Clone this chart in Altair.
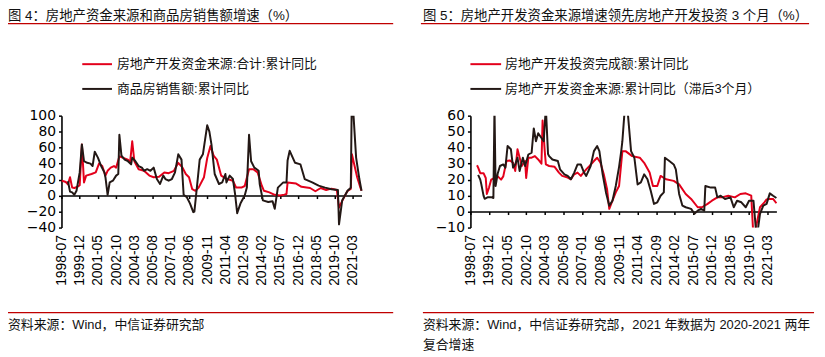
import altair as alt
import pandas as pd

FONT = "Liberation Sans, Noto Sans CJK SC"
RED = "#e3001b"
BLACK = "#231815"
TXT = "#111111"

# ---------------- data ----------------
# 图4: 房地产开发资金来源:合计:累计同比
f4_fund_dates = ["1998-07", "1998-09", "1998-11", "1999-01", "1999-03", "1999-05", "1999-07", "1999-10", "1999-12",
                 "2000-02", "2000-04", "2000-06", "2000-11", "2001-03", "2001-06", "2001-09", "2001-12", "2002-02",
                 "2002-05", "2002-08", "2002-10", "2003-01", "2003-04", "2003-09", "2003-11", "2004-01", "2004-03",
                 "2004-07", "2004-12", "2005-05", "2005-09", "2006-02", "2006-07", "2006-11", "2007-04", "2007-08",
                 "2007-12", "2008-03", "2008-06", "2008-09", "2008-12", "2009-03", "2009-08", "2009-11", "2010-02",
                 "2010-05", "2010-08", "2010-12", "2011-05", "2011-11", "2012-02", "2012-07", "2012-10", "2013-02",
                 "2013-06", "2013-10", "2014-02", "2014-04", "2014-09", "2015-02", "2015-07", "2015-11", "2016-01",
                 "2016-02", "2016-10", "2017-03", "2017-11", "2018-04", "2018-09", "2019-02", "2019-07", "2019-12",
                 "2020-02", "2020-06", "2020-10", "2021-01", "2021-02", "2021-07", "2021-10", "2021-11"]
f4_fund_vals = [18.6, 18, 17, 14, 23, 10, 9.5, 11, 13,
                64, 16.5, 25, 27, 29, 40, 37, 25, 31,
                35, 37, 35, 49, 47.5, 45, 41, 68, 43,
                33, 31, 25, 23, 23.5, 29, 28, 31, 41,
                35, 27, 23, 8, 6, 10, 23, 47, 62,
                50, 45, 25, 21, 18.6, 10, 10, 12, 33,
                33, 29, 12, 6, 4, 1, 0, 1.2, 2,
                16.5, 15, 11, 9.5, 5.4, 9.5, 7, 8.7, 7,
                -15, -4, 6, 8.5, 51.6, 23, 10, 6]

# 图4: 商品房销售额:累计同比
f4_sales_dates = ["1999-01", "1999-03", "1999-05", "1999-07", "1999-09", "1999-12", "2000-02", "2000-04", "2000-07",
                  "2000-10", "2000-12", "2001-02", "2001-05", "2001-08", "2001-11", "2001-12", "2002-02", "2002-04",
                  "2002-07", "2002-10", "2002-12", "2003-01", "2003-03", "2003-06", "2003-09", "2003-12", "2004-01",
                  "2004-04", "2004-07", "2004-10", "2004-12", "2005-03", "2005-06", "2005-09", "2005-12", "2006-03",
                  "2006-06", "2006-08", "2006-11", "2007-02", "2007-05", "2007-08", "2007-11", "2008-01", "2008-04",
                  "2008-07", "2008-10", "2008-11", "2009-01", "2009-04", "2009-07", "2009-09", "2009-11", "2010-01",
                  "2010-03", "2010-06", "2010-10", "2011-01", "2011-04", "2011-05", "2011-08", "2011-11", "2012-01",
                  "2012-03", "2012-06", "2012-10", "2012-12", "2013-02", "2013-04", "2013-07", "2013-11", "2013-12",
                  "2014-03", "2014-08", "2014-12", "2015-02", "2015-05", "2015-10", "2016-01", "2016-02", "2016-04",
                  "2016-09", "2017-02", "2017-06", "2018-01", "2018-07", "2019-01", "2019-07", "2020-01", "2020-02",
                  "2020-05", "2020-10", "2021-01", "2021-02", "2021-06", "2021-09", "2021-11"]
f4_sales_vals = [18, 5, 4, 1, 6, 29, 64, 43, 41,
                 40, 37, 55, 47.5, 37, 29, 23, 1, 16.5,
                 18.6, 25, 27, 76, 50, 45, 43, 39, 47.5,
                 43, 37, 35, 31, 33, 31, 35, 20.7, 14.5,
                 25, 20.7, 18.6, 20.7, 29, 51.6, 45, 1, -2,
                 -10, -20.7, -20, 6, 45, 51.6, 70, 88, 80,
                 64, 27, 14.5, 16.5, 27, 16.5, 25, 20.7, 2,
                 -22, -10, 0, 10, 76, 43, 35, 31, 14.5,
                 -6, -8, -7, -16.5, 10, 16.5, 16.5, 44, 56,
                 41, 39, 20.7, 16.5, 12.4, 10, 8, 7, -36,
                 -6, 6, 10, 133, 47.5, 20.7, 6]

# 图5: 房地产开发投资完成额:累计同比
f5_inv_dates = ["1999-01", "1999-02", "1999-04", "1999-07", "1999-09", "1999-10", "1999-12", "2000-02", "2000-05",
                "2000-08", "2000-11", "2001-01", "2001-04", "2001-07", "2001-10", "2001-12", "2002-02", "2002-06",
                "2002-09", "2002-10", "2002-12", "2003-03", "2003-06", "2003-09", "2003-12", "2004-01", "2004-03",
                "2004-04", "2004-07", "2004-12", "2005-04", "2005-07", "2005-12", "2006-03", "2006-06", "2006-09",
                "2006-12", "2007-05", "2007-08", "2007-12", "2008-03", "2008-06", "2008-09", "2008-12", "2009-02",
                "2009-05", "2009-08", "2009-11", "2010-02", "2010-05", "2010-11", "2011-06", "2011-10", "2012-03",
                "2012-06", "2012-10", "2013-01", "2013-06", "2014-01", "2014-06", "2014-12", "2015-05", "2015-11",
                "2016-03", "2016-08", "2016-12", "2017-05", "2017-09", "2018-03", "2018-09", "2019-02", "2019-07",
                "2019-12", "2020-02", "2020-05", "2020-08", "2020-12", "2021-02", "2021-04", "2021-08", "2021-11"]
f5_inv_vals = [29, 27.5, 24, 24, 21, 11, 15, 20, 21,
               22, 20, 22, 31.6, 32, 30.5, 25.4, 39, 28.5,
               31.6, 21, 33.7, 33.7, 34.7, 32.6, 30, 57, 38,
               29.5, 28.5, 28, 24.4, 22.3, 21.3, 20.2, 23.3, 24.4,
               22.3, 26.4, 28.5, 31.6, 33.7, 30.5, 23.3, 14, 1.7,
               6.8, 12, 16, 37.8, 37.8, 34.7, 33.7, 30.5, 24.4,
               16, 16, 22.3, 20.2, 19.2, 17, 11, 7.9, 2.7,
               2.7, 4.8, 6.8, 8.9, 8.9, 9.9, 8.9, 11, 11.4,
               10, -16.3, -7.6, 2.7, 5.8, 7.6, 7.9, 7.9, 5.2]

# 图5: 房地产开发资金来源:累计同比（滞后3个月）
f5_fund_dates = ["1999-02", "1999-04", "1999-05", "1999-07", "1999-08", "1999-11", "2000-02", "2000-04", "2000-05",
                 "2000-06", "2000-08", "2000-10", "2001-01", "2001-03", "2001-05", "2001-08", "2001-10", "2001-12",
                 "2002-02", "2002-04", "2002-07", "2002-09", "2002-12", "2003-03", "2003-05", "2003-07", "2003-09",
                 "2003-12", "2004-02", "2004-04", "2004-06", "2004-07", "2004-10", "2005-03", "2005-05", "2005-09",
                 "2005-12", "2006-03", "2006-06", "2006-09", "2006-12", "2007-03", "2007-05", "2007-09", "2007-12",
                 "2008-03", "2008-05", "2008-08", "2008-11", "2009-02", "2009-05", "2009-08", "2009-11", "2010-01",
                 "2010-02", "2010-04", "2010-07", "2010-10", "2011-01", "2011-04", "2011-07", "2011-10", "2012-01",
                 "2012-04", "2012-07", "2012-10", "2013-01", "2013-04", "2013-05", "2013-09", "2014-01", "2014-03",
                 "2014-06", "2014-09", "2014-12", "2015-05", "2015-08", "2015-11", "2016-02", "2016-05", "2016-06",
                 "2016-11", "2017-03", "2017-05", "2017-08", "2017-12", "2018-05", "2018-08", "2018-11", "2019-03",
                 "2019-07", "2019-10", "2020-02", "2020-05", "2020-08", "2020-11", "2021-02", "2021-05", "2021-08",
                 "2021-11"]
f5_fund_vals = [23, 20, 17, 10, 8, 9, 9, 8.5, 65,
                16, 24, 28.5, 29.5, 27.5, 41, 39, 27.5, 29.5,
                33.7, 25.4, 33.7, 28.5, 35.7, 36.8, 52, 44, 49,
                46, 44, 65, 36, 34.7, 32.6, 31.6, 26.4, 23.3,
                22.3, 20.2, 24.4, 29.5, 29.5, 24.4, 22.3, 28.5, 37.8,
                41, 37.8, 23.3, 12, 3.7, 6.8, 16, 28, 38,
                44, 62, 62, 37.8, 33.7, 17, 18.2, 23.3, 20.2,
                13, 4.8, 5.8, 9.9, 12, 33.7, 31.6, 29.5, 26.4,
                11, 3.7, 2.7, 1.7, -1.4, 0.6, 1.7, 0.6, 16,
                15, 15, 8.9, 9.9, 7.9, 8.9, 2.7, 6.8, 5.8,
                2.7, 6.8, 6.8, -17, -1.4, 3.7, 4.8, 11.4, 9.9,
                8.5]

x_labels = ["1998-07", "1999-12", "2001-05", "2002-10", "2004-03", "2005-08", "2007-01", "2008-06", "2009-11",
            "2011-04", "2012-09", "2014-02", "2015-07", "2016-12", "2018-05", "2019-10", "2021-03"]
x_first, x_last = "1998-07", "2021-11"
y4_ticks = [-40, -20, 0, 20, 40, 60, 80, 100]
y5_ticks = [-10, 0, 10, 20, 30, 40, 50, 60]

title4 = "图 4：房地产资金来源和商品房销售额增速（%）"
title5 = "图 5：房地产开发资金来源增速领先房地产开发投资 3 个月（%）"
legend4 = ["房地产开发资金来源:合计:累计同比", "商品房销售额:累计同比"]
legend5 = ["房地产开发投资完成额:累计同比", "房地产开发资金来源:累计同比（滞后3个月）"]
source4 = "资料来源：Wind，中信证券研究部"
source5 = ["资料来源：Wind，中信证券研究部，2021 年数据为 2020-2021 两年", "复合增速"]

# ---------------- layout ----------------
W, H = 723, 113


def dt(s):
    return alt.DateTime(year=int(s[:4]), month=int(s[5:7]), date=1, utc=True)


def panel(series, rng, ydom, yticks, yoffset):
    y0 = H - (0 - ydom[0]) / (ydom[1] - ydom[0]) * H  # pixel of zero line
    dist = H - y0
    xscale = alt.Scale(type="utc", domain=[dt(x_first), dt(x_last)], range=rng, nice=False)
    yscale = alt.Scale(domain=ydom, range=[H, 0], nice=False, zero=False)
    xaxis = alt.Axis(orient="bottom", offset=-dist, values=[dt(s) for s in x_labels],
                     labelExpr="utcFormat(datum.value, '%Y-%m')",
                     labelAngle=270, labelPadding=dist + 4, labelFlush=False,
                     labelOverlap=False, labelBound=False, labelFont="Liberation Sans", labelFontSize=14,
                     labelColor="#000", tickSize=3, tickColor="#000", tickWidth=1.5, domainColor="#000",
                     domainWidth=1.6, grid=False, title=None)
    yaxis = alt.Axis(orient="left", offset=yoffset, values=yticks, labelFont="DejaVu Sans", labelFontSize=14,
                     labelColor="#000", labelPadding=3, tickSize=3, tickColor="#000", tickWidth=1.5,
                     domainColor="#000", domainWidth=1.6, grid=False, title=None, labelOverlap=False,
                     labelFlush=False)
    layers = []
    for dates, vals, color in series:
        df = pd.DataFrame({"date": dates, "value": vals})
        layers.append(
            alt.Chart(df).mark_line(color=color, strokeWidth=2, clip=True, strokeJoin="round").encode(
                x=alt.X("date:T", scale=xscale, axis=xaxis),
                y=alt.Y("value:Q", scale=yscale, axis=yaxis),
            )
        )
    return alt.layer(*layers)


one = alt.Data(values=[{}])


def txt(s, x, y, size=13):
    return alt.Chart(one).mark_text(text=s, align="left", baseline="middle", font=FONT, fontSize=size,
                                    color=TXT).encode(x=alt.value(x), y=alt.value(y))


def hrule(x1, x2, y, color, width):
    return alt.Chart(one).mark_rule(color=color, strokeWidth=width).encode(
        x=alt.value(x1), x2=alt.value(x2), y=alt.value(y))


left = panel([(f4_fund_dates, f4_fund_vals, RED), (f4_sales_dates, f4_sales_vals, BLACK)],
             [0, 303], [-40, 100], y4_ticks, 0)
right = panel([(f5_inv_dates, f5_inv_vals, RED), (f5_fund_dates, f5_fund_vals, BLACK)],
              [413, 722], [-10, 60], y5_ticks, -413)

annos = [
    txt(title4, -54, -101, 13.5), hrule(-54, 335, -93, "#c00000", 1.3),
    txt(title5, 365, -101, 13.5), hrule(363, 755, -93, "#c00000", 1.3),
    hrule(21, 51, -52, RED, 2), txt(legend4[0], 56, -52),
    hrule(21, 51, -27, BLACK, 2), txt(legend4[1], 56, -27),
    hrule(413, 444, -52, RED, 2), txt(legend5[0], 448, -52),
    hrule(413, 444, -27, BLACK, 2), txt(legend5[1], 448, -27),
    hrule(-54, 335, 199, "#c00000", 1.3), txt(source4, -54, 211),
    hrule(365, 760, 199, "#c00000", 1.3), txt(source5[0], 365, 211), txt(source5[1], 365, 232),
]

chart = alt.layer(left, right, *annos).resolve_scale(x="independent", y="independent").resolve_axis(
    x="independent", y="independent").properties(
    width=W, height=H,
    padding={"left": 54, "top": 107, "right": 40, "bottom": 129},
    autosize=alt.AutoSizeParams(type="none"),
).configure_view(stroke=None)

chart.save("out.html", embed_options={"renderer": "svg", "actions": False})
